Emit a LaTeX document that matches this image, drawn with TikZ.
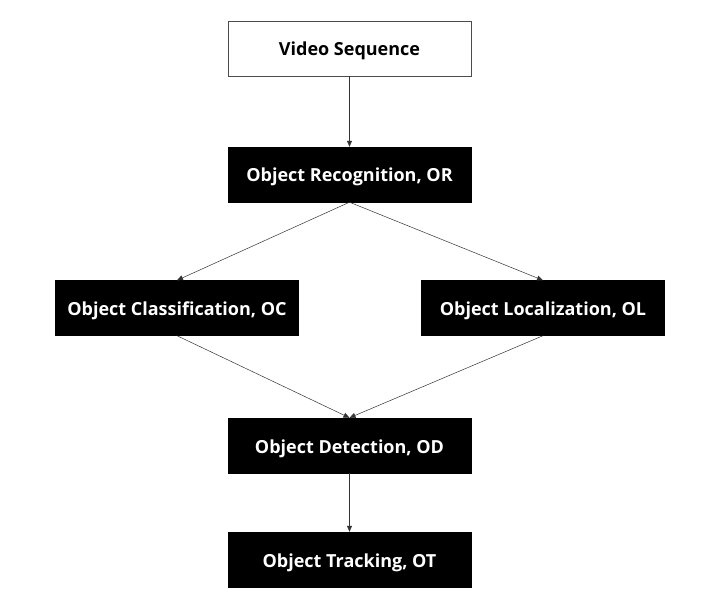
\documentclass[tikz,border=0pt]{standalone}
\usepackage{fontspec}
\setmainfont{Open Sans}
\usetikzlibrary{arrows.meta}
\begin{document}
\begin{tikzpicture}[x=1pt,y=-1pt,
  box/.style={minimum width=243pt,minimum height=55pt,font=\bfseries\fontsize{18}{20}\selectfont,inner sep=0pt,text height=16pt,text depth=1pt},
  blk/.style={box,fill=black,draw=black,text=white},
  wht/.style={box,fill=white,draw=black!70,line width=0.6pt,text=black},
  arr/.style={draw=black!80,line width=0.5pt,-{Triangle[length=6pt,width=5pt]}}]
\useasboundingbox (0,0) rectangle (713,596);
\node[wht] (vs) at (349.5,48.5) {Video Sequence};
\node[blk] (or) at (349.5,174.5) {Object Recognition, OR};
\node[blk] (oc) at (177,308) {Object Classification, OC};
\node[blk] (ol) at (543,308) {Object Localization, OL};
\node[blk] (od) at (349.5,445.5) {Object Detection, OD};
\node[blk] (ot) at (349.5,559.5) {Object Tracking, OT};
\draw[arr] (vs.south) -- (or.north);
\draw[arr] (or.south) -- (oc.north);
\draw[arr] (or.south) -- (ol.north);
\draw[arr] (oc.south) -- (od.north);
\draw[arr] (ol.south) -- (od.north);
\draw[arr] (od.south) -- (ot.north);
\end{tikzpicture}
\end{document}
